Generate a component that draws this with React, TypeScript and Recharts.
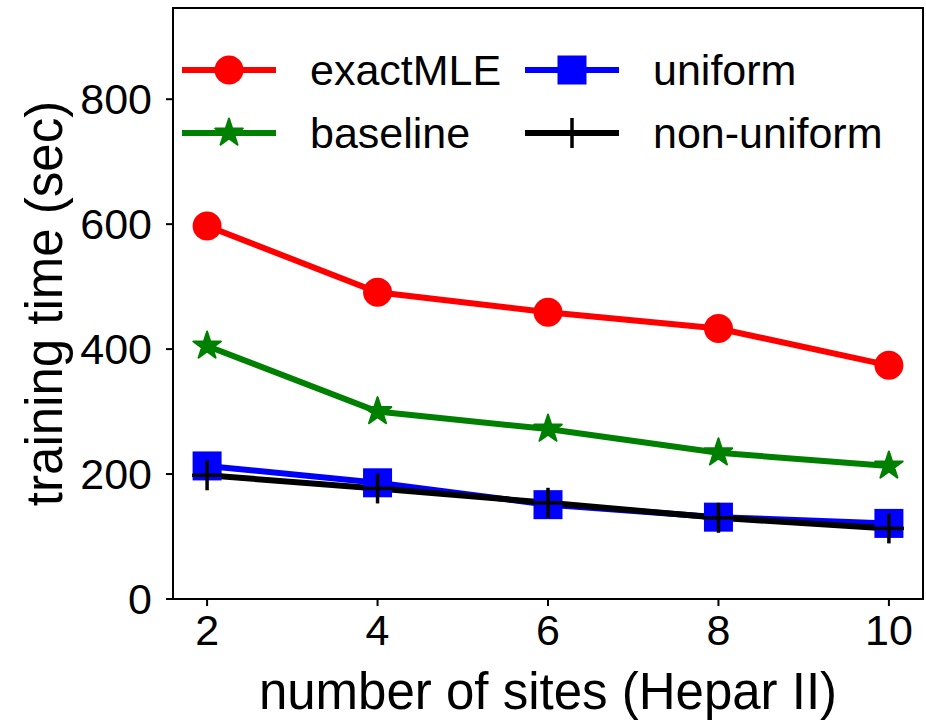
import { LineChart, Line, XAxis, YAxis, Legend, ReferenceArea } from 'recharts';

const sites = [2, 4, 6, 8, 10];
const exactMLE = [597, 491, 459, 433, 374];
const baseline = [405, 300, 272, 234, 213];
const uniform = [213, 186, 151, 131, 121];
const nonUniform = [198, 177, 154, 130, 113];
const xTicks = [2, 4, 6, 8, 10];
const yTicks = [0, 200, 400, 600, 800];
const xDomain = [1.6, 10.4];
const yDomain = [0, 946];

const data = sites.map((s, i) => ({
  sites: s,
  exactMLE: exactMLE[i],
  baseline: baseline[i],
  uniform: uniform[i],
  nonUniform: nonUniform[i],
}));

const series = [
  { key: 'exactMLE', name: 'exactMLE', color: '#ff0000', marker: 'circle' },
  { key: 'baseline', name: 'baseline', color: '#008000', marker: 'star' },
  { key: 'uniform', name: 'uniform', color: '#0000ff', marker: 'square' },
  { key: 'nonUniform', name: 'non-uniform', color: '#000000', marker: 'plus' },
];

const FONT = '"Liberation Sans", Arial, sans-serif';

function starPoints(cx: number, cy: number, r: number) {
  const pts: string[] = [];
  for (let k = 0; k < 10; k++) {
    const a = ((-90 + k * 36) * Math.PI) / 180;
    const rr = k % 2 === 0 ? r : r * 0.382;
    pts.push(`${cx + rr * Math.cos(a)},${cy + rr * Math.sin(a)}`);
  }
  return pts.join(' ');
}

function Marker({ kind, cx, cy, color }: { kind: string; cx: number; cy: number; color: string }) {
  if (kind === 'circle') return <circle cx={cx} cy={cy} r={14.5} fill={color} />;
  if (kind === 'square') return <rect x={cx - 14.5} y={cy - 14.5} width={29} height={29} fill={color} />;
  if (kind === 'star')
    return <polygon points={starPoints(cx, cy, 14.5)} fill={color} stroke={color} strokeWidth={2} strokeLinejoin="round" />;
  return (
    <g stroke={color} strokeWidth={3.5}>
      <line x1={cx - 15} x2={cx + 15} y1={cy} y2={cy} />
      <line x1={cx} x2={cx} y1={cy - 15} y2={cy + 15} />
    </g>
  );
}

// legend drawn by hand, two columns like matplotlib ncol=2
function LegendBox() {
  const cols = [
    { lineX: 9, textX: 137 },
    { lineX: 352, textX: 480 },
  ];
  const rows = [70, 133];
  return (
    <svg width={745} height={170} style={{ display: 'block' }}>
      {series.map((s, i) => {
        const col = cols[Math.floor(i / 2)];
        const y = rows[i % 2];
        return (
          <g key={s.key}>
            <line x1={col.lineX} x2={col.lineX + 94} y1={y} y2={y} stroke={s.color} strokeWidth={6} />
            <Marker kind={s.marker} cx={col.lineX + 47} cy={y} color={s.color} />
            <text x={col.textX} y={y} dominantBaseline="central" fontSize={43} fontFamily={FONT} fill="#000">
              {s.name}
            </text>
          </g>
        );
      })}
    </svg>
  );
}

export default function App() {
  return (
    <div style={{ position: 'absolute', left: 0, top: 0, background: '#fff' }}>
      <LineChart width={926} height={723} data={data} margin={{ top: 8, right: 3, left: 0, bottom: 0 }}>
        <XAxis
          dataKey="sites"
          type="number"
          domain={xDomain}
          ticks={xTicks}
          height={124}
          stroke="#000"
          strokeWidth={2}
          tickSize={7}
          tickMargin={8}
          tick={{ fill: '#000', fontSize: 43, fontFamily: FONT }}
          label={{
            value: 'number of sites (Hepar II)',
            position: 'insideBottom',
            offset: 14,
            style: { fill: '#000', fontSize: 51, fontFamily: FONT },
          }}
        />
        <YAxis
          type="number"
          domain={yDomain}
          ticks={yTicks}
          width={173}
          stroke="#000"
          strokeWidth={2}
          tickSize={7}
          tickMargin={14}
          tick={{ fill: '#000', fontSize: 43, fontFamily: FONT }}
          label={{
            value: 'training time (sec)',
            angle: -90,
            position: 'center',
            dx: -43,
            style: { fill: '#000', fontSize: 51, fontFamily: FONT },
          }}
        />
        {/* box around the plot area */}
        <ReferenceArea
          x1={xDomain[0]}
          x2={xDomain[1]}
          y1={yDomain[0]}
          y2={yDomain[1]}
          fill="none"
          fillOpacity={0}
          stroke="#000"
          strokeWidth={2}
        />
        <Legend
          layout="horizontal"
          verticalAlign="middle"
          align="center"
          content={() => <LegendBox />}
          wrapperStyle={{ top: 0, left: 173, width: 745, height: 170 }}
        />
        {series.map((s) => (
          <Line
            key={s.key}
            dataKey={s.key}
            name={s.name}
            stroke={s.color}
            strokeWidth={6}
            isAnimationActive={false}
            dot={(p: any) => (
              <Marker key={`${s.key}-${p.index}`} kind={s.marker} cx={p.cx} cy={p.cy} color={s.color} />
            )}
            activeDot={false}
          />
        ))}
      </LineChart>
    </div>
  );
}
